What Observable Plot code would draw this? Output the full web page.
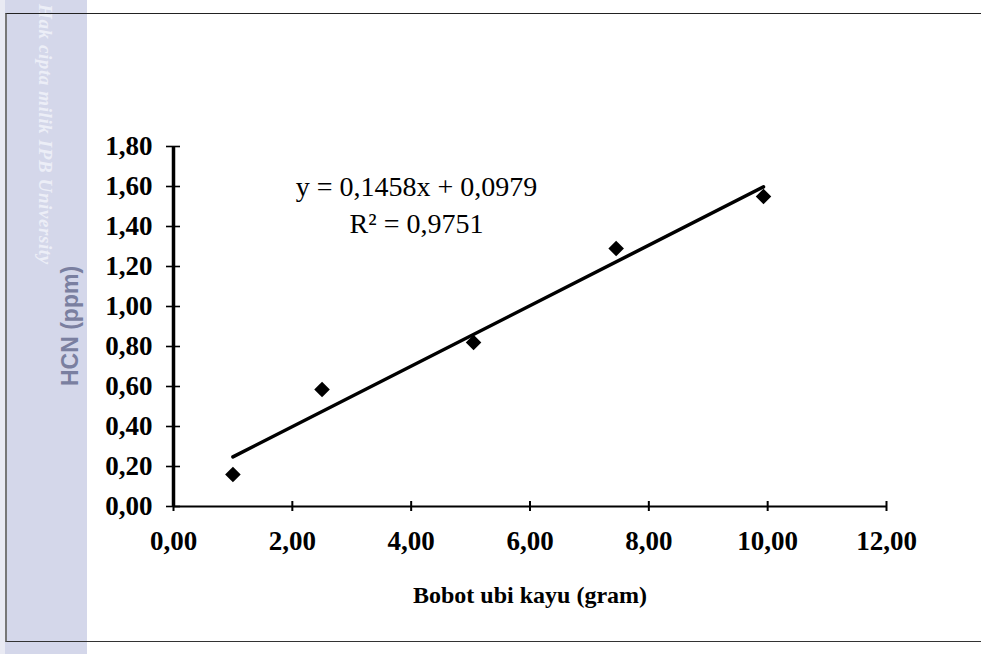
<!DOCTYPE html>
<html>
<head>
<meta charset="utf-8">
<script src="https://cdn.jsdelivr.net/npm/d3@7"></script>
<script src="https://cdn.jsdelivr.net/npm/@observablehq/plot@0.6"></script>
<style>
  html, body { margin: 0; padding: 0; background: #fff; }
  #wrap { position: relative; width: 981px; height: 654px; overflow: hidden; background: #fff; }
  #strip { position: absolute; left: 0; top: 0; width: 87px; height: 654px; background: #d4d7ea; }
  #strip .edge { position: absolute; left: 0; top: 0; width: 5px; height: 654px; background: #e9eaf3; }
  #wm { position: absolute; left: 0; top: 0; transform-origin: 0 0; transform: translate(56px, 4px) rotate(90deg);
        font: italic bold 19px "Liberation Serif", serif; color: #eceef7; white-space: nowrap; letter-spacing: 0.6px; }
  #border { position: absolute; left: 5px; top: 13px; width: 974px; height: 627px;
            border-top: 1.5px solid #222; border-right: 1.5px solid #333; border-bottom: 1.5px solid #333; border-left: 2px solid #777; }
  #plot { position: absolute; left: 0; top: 0; }
  #ytitle { position: absolute; left: 70px; top: 326px; transform: translate(-50%, -50%) rotate(-90deg);
            font: bold 23px "Liberation Sans", Arial, sans-serif; color: #7a7fa0; white-space: nowrap; }
</style>
</head>
<body>
<div id="wrap">
  <div id="strip"><div class="edge"></div></div>
  <div id="wm">Hak cipta milik IPB University</div>
  <div id="border"></div>
  <div id="plot"></div>
  <div id="ytitle"></div>
</div>
<script>
// ---- data ----
const bobot = [1.0, 2.5, 5.05, 7.45, 9.93];        // x: Bobot ubi kayu (gram)
const hcn   = [0.16, 0.585, 0.82, 1.29, 1.55];     // y: HCN (ppm)
const xTicks = [0, 2, 4, 6, 8, 10, 12];
const yTicks = [0, 0.2, 0.4, 0.6, 0.8, 1.0, 1.2, 1.4, 1.6, 1.8];
const equationLines = ["y = 0,1458x + 0,0979", "R\u00B2 = 0,9751"];
const xTitle = "Bobot ubi kayu (gram)";
const yTitle = "HCN (ppm)";

// ---- build ----
const points = bobot.map((x, i) => ({x, y: hcn[i]}));
const fmt = d => d.toFixed(2).replace(".", ",");
const serif = "'Liberation Serif', 'Times New Roman', serif";

const chart = Plot.plot({
  width: 981,
  height: 654,
  marginLeft: 173,
  marginRight: 95,
  marginTop: 146,
  marginBottom: 148,
  style: {background: "transparent", fontFamily: serif, color: "#000"},
  x: {domain: [0, 12]},
  y: {domain: [0, 1.8]},
  marks: [
    // y axis: crossing tick marks
    Plot.axisY(yTicks, {anchor: "left", tickSize: 14, dx: 7, tickFormat: () => "", strokeWidth: 1.6, label: null}),
    // y axis labels
    Plot.axisY(yTicks, {anchor: "left", tickSize: 0, tickPadding: 21, tickFormat: fmt, fontSize: 27, fontWeight: "bold", fontFamily: serif, label: null}),
    // x axis: crossing tick marks
    Plot.axisX(xTicks, {anchor: "bottom", tickSize: 10, dy: -5, tickFormat: () => "", strokeWidth: 2, label: null}),
    // x axis labels
    Plot.axisX(xTicks, {anchor: "bottom", tickSize: 0, tickPadding: 24, tickFormat: fmt, fontSize: 27, fontWeight: "bold", fontFamily: serif, label: null}),
    Plot.ruleY([0], {stroke: "#000", strokeWidth: 2}),
    Plot.ruleX([0], {stroke: "#000", strokeWidth: 3.5}),
    Plot.linearRegressionY(points, {x: "x", y: "y", ci: 0, stroke: "#000", strokeWidth: 3.5}),
    Plot.dot(points, {x: "x", y: "y", symbol: "diamond2", r: 7, fill: "#000", stroke: "none"}),
    Plot.text([equationLines.join("\n")], {frameAnchor: "top-left", dx: 243, dy: 23, textAnchor: "middle", lineAnchor: "top",
      lineHeight: 1.32, fontSize: 28, fontFamily: serif, fill: "#000"}),
    Plot.text([xTitle], {frameAnchor: "bottom", dy: 96, fontSize: 24, fontWeight: "bold", fontFamily: serif, fill: "#000"})
  ]
});
document.getElementById("plot").appendChild(chart);
document.getElementById("ytitle").textContent = yTitle;
</script>
</body>
</html>
